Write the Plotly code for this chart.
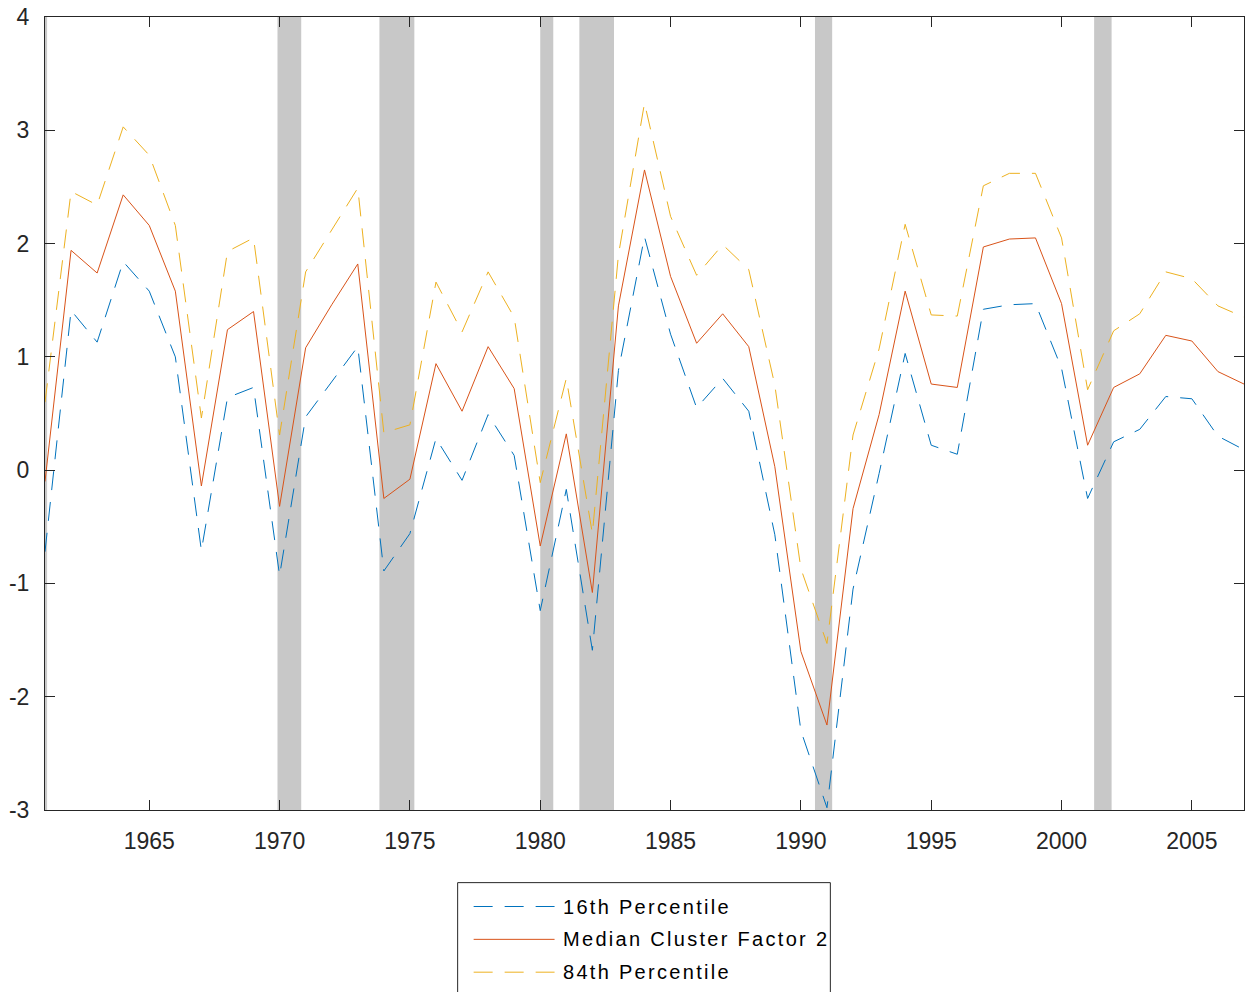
import plotly.graph_objects as go

years = list(range(1961, 2008))

median = [-0.10, 1.94, 1.74, 2.43, 2.16, 1.58, -0.14, 1.24, 1.40, -0.32,
          1.08, 1.46, 1.82, -0.25, -0.08, 0.94, 0.52, 1.09, 0.72, -0.67,
          0.32, -1.08, 1.45, 2.65, 1.71, 1.12, 1.38, 1.09, 0.03, -1.60,
          -2.25, -0.34, 0.49, 1.58, 0.76, 0.73, 1.97, 2.04, 2.05, 1.47,
          0.22, 0.73, 0.85, 1.19, 1.14, 0.87, 0.76]

p16 = [-0.72, 1.41, 1.13, 1.84, 1.58, 1.00, -0.71, 0.64, 0.73, -0.93,
       0.47, 0.78, 1.09, -0.89, -0.56, 0.28, -0.09, 0.49, 0.13, -1.24,
       -0.17, -1.59, 0.88, 2.06, 1.20, 0.55, 0.81, 0.52, -0.57, -2.30,
       -2.98, -1.05, -0.03, 1.03, 0.22, 0.14, 1.42, 1.46, 1.47, 0.90,
       -0.25, 0.25, 0.36, 0.65, 0.63, 0.30, 0.18]

p84 = [0.60, 2.46, 2.34, 3.03, 2.78, 2.16, 0.46, 1.93, 2.05, 0.31,
       1.75, 2.12, 2.49, 0.33, 0.40, 1.66, 1.22, 1.75, 1.35, -0.11,
       0.81, -0.56, 1.90, 3.24, 2.24, 1.72, 1.99, 1.77, 0.75, -0.87,
       -1.53, 0.31, 1.07, 2.17, 1.37, 1.36, 2.51, 2.62, 2.62, 2.05,
       0.71, 1.23, 1.38, 1.75, 1.69, 1.45, 1.35]

rec_start = [1960.33, 1969.92, 1973.83, 1980.0, 1981.5, 1990.54, 2001.25]
rec_end = [1961.08, 1970.83, 1975.17, 1980.5, 1982.83, 1991.2, 2001.92]

x_ticks = [1965, 1970, 1975, 1980, 1985, 1990, 1995, 2000, 2005]
y_ticks = [-3, -2, -1, 0, 1, 2, 3, 4]
y_ticklabels = ["-3", "-2", "-1", "0", "1", "2", "3", "4"]

legend_names = ["16th Percentile", "Median Cluster Factor 2", "84th Percentile"]
c_blue, c_red, c_yel = "#0072BD", "#D95319", "#EDB120"
dash = "19px,12px"

fig = go.Figure()
fig.add_trace(go.Scatter(x=years, y=p16, mode="lines", name=legend_names[0],
                         line=dict(color=c_blue, width=1, dash=dash)))
fig.add_trace(go.Scatter(x=years, y=median, mode="lines", name=legend_names[1],
                         line=dict(color=c_red, width=1)))
fig.add_trace(go.Scatter(x=years, y=p84, mode="lines", name=legend_names[2],
                         line=dict(color=c_yel, width=1, dash=dash)))

for s, e in zip(rec_start, rec_end):
    fig.add_shape(type="rect", xref="x", yref="y domain", x0=s, x1=e, y0=0, y1=1,
                  fillcolor="#c8c8c8", line=dict(width=0), layer="below")

# manual legend (box, sample lines, labels)
W, H, L, R, T, B = 1249, 992, 45, 4, 13, 182
pw, ph = W - L - R, H - T - B
def px(xp):
    return (xp - L) / pw
def py(yp):
    return (H - B - yp) / ph

fig.add_shape(type="rect", xref="paper", yref="paper", x0=px(458), x1=px(831),
              y0=py(1000), y1=py(883), line=dict(color="#262626", width=1),
              fillcolor="white")
rows = [907, 940, 973]
styles = [(c_blue, dash), (c_red, "solid"), (c_yel, dash)]
for name, r, (col, d) in zip(legend_names, rows, styles):
    fig.add_shape(type="line", xref="paper", yref="paper", x0=px(474), x1=px(555),
                  y0=py(r), y1=py(r), line=dict(color=col, width=1, dash=d))
    fig.add_annotation(xref="paper", yref="paper", x=px(561), y=py(r),
                       xanchor="left", yanchor="middle", showarrow=False,
                       text=f'<span style="letter-spacing:2.3px">{name}</span>',
                       font=dict(family="Liberation Sans, Arial", size=20, color="black"))

axis_common = dict(showline=True, linecolor="#262626", linewidth=1, mirror="allticks",
                   ticks="inside", ticklen=10, tickcolor="#262626", showgrid=False,
                   zeroline=False,
                   tickfont=dict(family="Liberation Sans, Arial", size=23, color="#262626"))

fig.update_layout(
    width=W, height=H, margin=dict(l=L, r=R, t=T, b=B),
    paper_bgcolor="white", plot_bgcolor="white", showlegend=False,
    xaxis=dict(range=[1961, 2007], tickvals=x_ticks, ticklabelstandoff=10, **axis_common),
    yaxis=dict(range=[-3, 4], tickvals=y_ticks, ticktext=y_ticklabels,
               ticklabelstandoff=10, **axis_common),
)

fig.write_html("out.html", config={"displayModeBar": False},
               post_script="document.body.style.margin='0px';document.body.style.overflow='hidden';")
